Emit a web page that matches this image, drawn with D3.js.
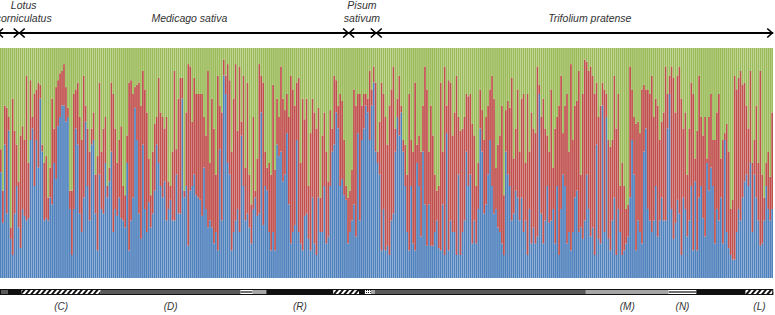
<!DOCTYPE html>
<html>
<head>
<meta charset="utf-8">
<script src="https://cdn.jsdelivr.net/npm/d3@7"></script>
<style>
  html, body { margin: 0; padding: 0; background: #fff; }
  svg { display: block; font-family: "Liberation Sans", Arial, sans-serif; }
  .host, .pop { font-style: italic; fill: #333; }
</style>
</head>
<body>
<div id="chart"></div>
<script>
// membership (%) of each individual in cluster 1 (blue) and cluster 2 (red); cluster 3 (green) is the rest
const blue = [
  46,24,58,28,64,17,10,28,40,22,13,30,27,25,26,60,65,40,60,48,78,55,25,26,25,35,32,50,43,66,70,75,75,68,70,30,10,30,65,58,28,20,35,68,40,25,58,60,28,12,45,30,28,50,35,42,55,20,30,27,35,26,25,22,50,
  12,25,35,74,60,28,17,58,30,20,33,22,28,38,58,50,40,35,42,25,30,34,25,25,45,28,28,78,35,40,14,38,40,45,36,35,34,27,48,30,22,25,22,15,20,12,56,25,88,80,50,45,12,20,25,30,20,62,40,25,28,22,15,30,
  35,27,28,72,23,40,38,20,12,20,12,58,53,55,42,45,63,32,15,20,23,60,20,15,12,27,28,17,12,35,15,10,35,20,20,40,15,18,40,55,58,72,65,40,43,36,34,15,20,25,32,18,63,25,60,65,75,72,60,75,85,55,50,45,
  12,30,12,14,10,25,28,55,70,62,72,55,40,20,12,40,15,12,50,40,18,55,32,14,32,14,14,20,25,13,12,32,10,63,12,25,20,20,10,45,10,20,25,55,40,45,15,25,15,30,65,55,28,32,45,60,40,28,30,22,20,15,10,55,45,
  40,25,28,38,35,25,35,20,25,10,30,15,22,15,18,80,28,15,25,40,24,25,30,15,40,10,30,45,40,15,20,12,20,35,38,20,22,17,25,45,30,18,22,10,58,17,15,75,20,70,17,12,25,35,10,30,20,10,12,15,18,35,60,45,12,25,20,
  15,55,65,30,25,20,25,40,18,25,35,25,25,65,80,30,17,24,34,28,10,35,30,18,25,40,12,42,12,35,40,26,18,50,38,48,40,15,30,25,35,15,60,20,13,10,8,8,20,30,25,35,42,45,40,50,20,45,35,25,14,15,25,40,30,25,30
];
const red = [
  10,14,17,46,6,5,68,36,18,20,49,36,33,63,24,26,5,40,22,37,6,3,25,27,10,13,46,15,40,20,19,15,18,15,4,8,28,50,17,27,42,40,53,7,25,30,7,12,17,41,40,25,37,20,5,6,30,60,35,23,25,40,15,14,12,
  73,61,45,9,24,57,58,32,52,52,19,14,27,29,12,37,32,35,23,45,12,6,30,65,11,50,59,9,3,32,79,54,28,42,44,45,46,53,22,32,68,25,56,50,25,76,19,47,7,8,43,41,43,58,68,34,72,6,48,23,57,23,17,40,
  3,25,65,16,62,15,10,30,33,64,35,20,17,37,36,28,17,38,73,62,52,25,67,35,66,42,50,23,51,43,57,55,39,15,42,32,40,24,33,10,30,14,10,40,34,24,6,20,18,22,50,57,17,55,15,15,5,6,30,7,7,30,5,23,
  73,50,58,44,65,57,64,10,8,26,3,5,18,25,68,20,40,73,8,22,37,20,60,68,23,61,48,25,13,27,73,23,82,12,74,60,42,52,78,25,54,45,45,25,39,35,52,37,25,20,17,18,32,38,30,22,48,50,18,36,42,60,26,18,32,
  34,62,24,27,47,30,43,60,25,70,25,57,43,48,74,4,42,63,40,22,31,57,18,50,30,65,58,18,35,65,35,81,40,40,39,70,23,63,70,49,60,74,66,70,27,53,60,10,62,10,43,45,35,53,55,50,20,40,28,15,14,57,22,25,55,43,43,
  67,29,17,52,55,68,45,38,57,35,33,47,67,15,8,62,70,48,54,64,68,30,42,27,40,45,68,10,52,53,30,36,52,2,32,32,20,45,42,55,17,45,3,47,42,20,26,80,62,57,65,49,43,30,25,40,30,15,40,25,76,30,10,10,25,19,42
];
const clusterColors = ['#4F81BD', '#C0504D', '#9BBB59'];

// host plants, as ranges of individuals (labelAt = individual the label sits over)
const hosts = [
  { lines: ['Lotus', 'corniculatus'], from: -1, to: 10, labelAt: 12 },
  { lines: ['Medicago sativa'], from: 10, to: 177, labelAt: 96 },
  { lines: ['Pisum', 'sativum'], from: 177, to: 191, labelAt: 183.5 },
  { lines: ['Trifolium pratense'], from: 191, to: 392, labelAt: 299 }
];

// sampling populations strip under the plot
const strip = [
  { from: 0, to: 4, fill: 'dark' },
  { from: 4, to: 11, fill: 'black' },
  { from: 11, to: 51, fill: 'hatch', label: '(C)' },
  { from: 51, to: 122, fill: 'dark', label: '(D)' },
  { from: 122, to: 128, fill: 'double' },
  { from: 128, to: 135, fill: 'light' },
  { from: 135, to: 169, fill: 'black', label: '(R)' },
  { from: 169, to: 182, fill: 'hatch' },
  { from: 182, to: 185, fill: 'black' },
  { from: 185, to: 188, fill: 'dots' },
  { from: 188, to: 190, fill: 'light' },
  { from: 190, to: 297, fill: 'dark' },
  { from: 297, to: 339, fill: 'light', label: '(M)' },
  { from: 339, to: 353, fill: 'double', label: '(N)' },
  { from: 353, to: 378, fill: 'black' },
  { from: 378, to: 392, fill: 'hatch', label: '(L)' }
];

const width = 775, height = 315;
const plot = { left: 0, right: 773, top: 48, bottom: 278 };

const svg = d3.select('#chart').append('svg')
    .attr('width', width)
    .attr('height', height);

const defs = svg.append('defs');
const hatch = defs.append('pattern')
    .attr('id', 'hatch')
    .attr('patternUnits', 'userSpaceOnUse')
    .attr('width', 4).attr('height', 4)
    .attr('patternTransform', 'rotate(40)');
hatch.append('rect').attr('width', 4).attr('height', 4).attr('fill', '#fff');
hatch.append('rect').attr('width', 2).attr('height', 4).attr('fill', '#111');

const dots = defs.append('pattern')
    .attr('id', 'dots')
    .attr('patternUnits', 'userSpaceOnUse')
    .attr('width', 2).attr('height', 2);
dots.append('rect').attr('width', 2).attr('height', 2).attr('fill', '#fff');
dots.append('rect').attr('width', 1).attr('height', 1).attr('fill', '#111');

const n = Math.min(blue.length, red.length);
const rows = blue.slice(0, n).map((b, i) => ({ i, blue: b, red: red[i], green: Math.max(0, 100 - b - red[i]) }));

const x = d3.scaleBand()
    .domain(rows.map(d => d.i))
    .range([plot.left, plot.right])
    .paddingInner(0.12);
const xPos = i => plot.left + i * x.step();   // edge position between individuals

const y = d3.scaleLinear()
    .domain([0, 100])
    .range([plot.bottom, plot.top]);

const stack = d3.stack().keys(['blue', 'red', 'green']);
const layers = stack(rows);

svg.append('g')
  .selectAll('g')
    .data(layers)
  .join('g')
    .attr('fill', (d, k) => clusterColors[k])
  .selectAll('rect')
    .data(d => d)
  .join('rect')
    .attr('x', d => x(d.data.i))
    .attr('width', x.bandwidth())
    .attr('y', d => y(d[1]))
    .attr('height', d => y(d[0]) - y(d[1]));

// host plant arrows across the top
const arrowY = 33;
const hostG = svg.append('g');
hostG.append('line')
    .attr('x1', xPos(hosts[0].from)).attr('x2', xPos(hosts[hosts.length - 1].to))
    .attr('y1', arrowY).attr('y2', arrowY)
    .attr('stroke', '#000').attr('stroke-width', 2);

const heads = [];
hosts.forEach(h => {
    heads.push({ x: xPos(h.from), dir: -1 });
    heads.push({ x: xPos(h.to) - 1, dir: 1 });
});
hostG.selectAll('path.head')
    .data(heads)
  .join('path')
    .attr('class', 'head')
    .attr('d', d => `M${d.x - d.dir * 5},${arrowY - 4.5}L${d.x},${arrowY}L${d.x - d.dir * 5},${arrowY + 4.5}`)
    .attr('fill', 'none')
    .attr('stroke', '#000')
    .attr('stroke-width', 1.6);

hostG.selectAll('text.host')
    .data(hosts)
  .join('text')
    .attr('class', 'host')
    .attr('text-anchor', 'middle')
    .attr('font-size', 10.5)
    .attr('x', d => xPos(d.labelAt))
    .attr('y', d => d.lines.length > 1 ? 9 : 22)
    .selectAll('tspan')
    .data(d => d.lines)
  .join('tspan')
    .attr('x', function () { return d3.select(this.parentNode).attr('x'); })
    .attr('dy', (d, i) => i ? 13 : 0)
    .text(d => d);

// population strip
const stripY = 289, stripH = 6;
const fills = { dark: '#595959', light: '#a6a6a6', black: '#111', hatch: 'url(#hatch)', dots: 'url(#dots)', double: '#fff' };
const seg = svg.append('g').selectAll('g')
    .data(strip)
  .join('g');
seg.append('rect')
    .attr('x', d => xPos(d.from))
    .attr('width', d => xPos(d.to) - xPos(d.from))
    .attr('y', stripY)
    .attr('height', stripH)
    .attr('fill', d => fills[d.fill]);
seg.filter(d => d.fill === 'double').append('line')
    .attr('x1', d => xPos(d.from)).attr('x2', d => xPos(d.to))
    .attr('y1', stripY + stripH / 2).attr('y2', stripY + stripH / 2)
    .attr('stroke', '#111').attr('stroke-width', 1.2);
svg.append('rect')
    .attr('x', xPos(0) + 0.5).attr('y', stripY + 0.5)
    .attr('width', xPos(rows.length) - xPos(0) - 1).attr('height', stripH - 1)
    .attr('fill', 'none').attr('stroke', '#111').attr('stroke-width', 1);

svg.append('g').selectAll('text')
    .data(strip.filter(d => d.label))
  .join('text')
    .attr('class', 'pop')
    .attr('text-anchor', 'middle')
    .attr('font-size', 10)
    .attr('x', d => (xPos(d.from) + xPos(d.to)) / 2)
    .attr('y', 310)
    .text(d => d.label);
</script>
</body>
</html>
